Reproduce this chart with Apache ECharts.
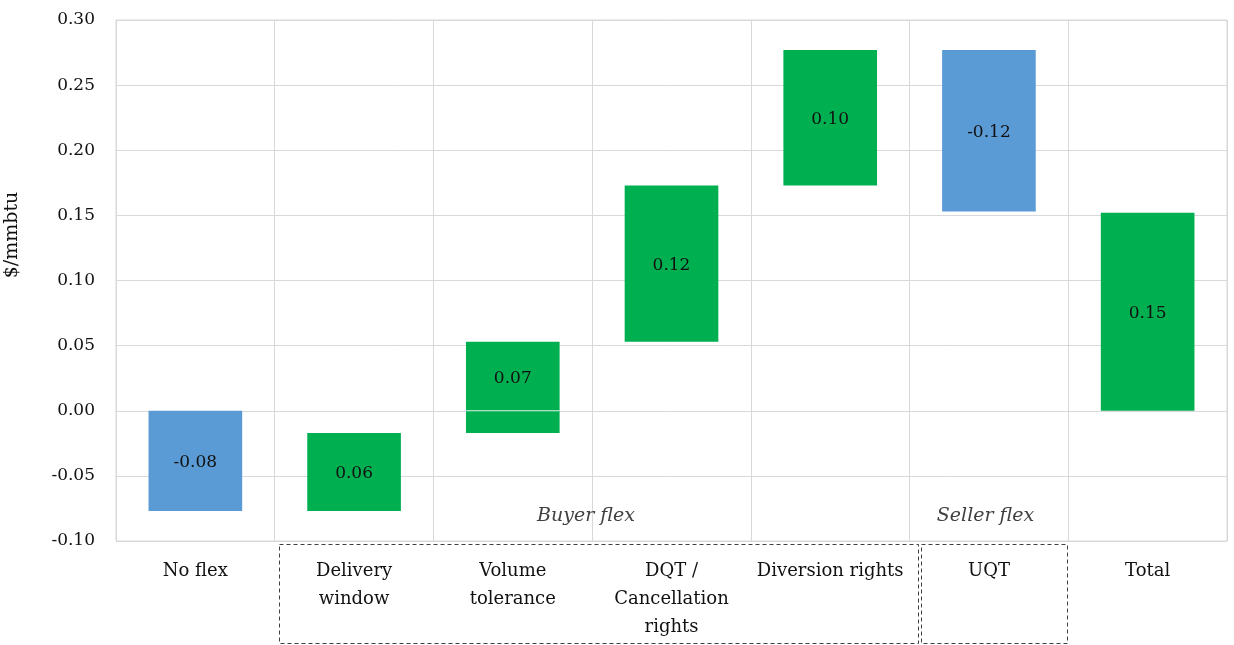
<!DOCTYPE html>
<html>
<head>
<meta charset="utf-8">
<script src="https://cdn.jsdelivr.net/npm/echarts@6/dist/echarts.min.js"></script>
<style>html,body{margin:0;padding:0;background:#fff}#c{width:1234px;height:645px}</style>
</head>
<body>
<div id="c"></div>
<script>
var categories = ['No flex', 'Delivery\nwindow', 'Volume\ntolerance', 'DQT /\nCancellation\nrights', 'Diversion rights', 'UQT', 'Total'];
var changes = [-0.077, 0.060, 0.070, 0.120, 0.104, -0.124, 0.152];
var isTotal = [false, false, false, false, false, false, true];
var yTicks = { min: -0.10, max: 0.30, interval: 0.05 };
var groups = [
  { name: 'Buyer flex', from: 1, to: 4 },
  { name: 'Seller flex', from: 5, to: 5 }
];

var FONT = 'DejaVu Serif';
var BLUE = '#5B9BD5', GREEN = '#00B050';

var rows = [];
var run = 0;
for (var i = 0; i < changes.length; i++) {
  var start, end;
  if (isTotal[i]) { start = 0; end = changes[i]; }
  else { start = run; end = run + changes[i]; run = end; }
  rows.push([i, Math.min(start, end), Math.max(start, end), changes[i]]);
}

var chart = echarts.init(document.getElementById('c'));
var option = {
  animation: false,
  grid: { left: 116, right: 7, top: 20, bottom: 104, show: true, borderColor: '#d9d9d9', borderWidth: 1 },
  xAxis: {
    type: 'category',
    data: categories,
    axisLine: { show: true, lineStyle: { color: '#d9d9d9' } },
    axisTick: { show: false },
    splitLine: { show: true, lineStyle: { color: '#d9d9d9' } },
    axisLabel: { interval: 0, color: '#111', fontFamily: FONT, fontSize: 18, lineHeight: 28, margin: 16 }
  },
  yAxis: {
    type: 'value',
    min: yTicks.min, max: yTicks.max, interval: yTicks.interval,
    axisLine: { show: false },
    axisTick: { show: false },
    splitLine: { lineStyle: { color: '#d9d9d9' } },
    axisLabel: { color: '#111', fontFamily: FONT, fontSize: 17, margin: 21,
      formatter: function (v) { return v.toFixed(2); } }
  },
  series: [{
    type: 'custom',
    data: rows,
    encode: { x: 0, y: [1, 2] },
    renderItem: function (params, api) {
      var idx = api.value(0);
      var loV = api.value(1), hiV = api.value(2);
      var lo = api.coord([idx, loV]);
      var hi = api.coord([idx, hiV]);
      var w = api.size([1, 0])[0] * 0.59;
      var val = api.value(3);
      var x = lo[0] - w / 2;
      var fill = val < 0 ? BLUE : GREEN;
      var children = [{
        type: 'rect',
        shape: { x: x, y: hi[1], width: w, height: lo[1] - hi[1] },
        style: { fill: fill }
      }];
      var labelTop = hi[1], labelBot = lo[1];
      if (loV < 0 && hiV > 0) {
        var z = api.coord([idx, 0])[1];
        children.push({
          type: 'line',
          shape: { x1: x, y1: z, x2: x + w, y2: z },
          style: { stroke: '#e6efe9', lineWidth: 1 }
        });
        labelBot = z;
      }
      children.push({
        type: 'text',
        x: lo[0], y: (labelTop + labelBot) / 2 + 2,
        style: { text: val.toFixed(2), fill: '#111', fontFamily: FONT, fontSize: 17, align: 'center', verticalAlign: 'middle' }
      });
      return { type: 'group', children: children };
    }
  }]
};
chart.setOption(option);

function boundary(i) {
  var c0 = chart.convertToPixel({ xAxisIndex: 0 }, 0);
  var c1 = chart.convertToPixel({ xAxisIndex: 0 }, 1);
  var w = c1 - c0;
  return c0 - w / 2 + i * w;
}
var gfx = [{
  type: 'text', x: 12, y: 235, rotation: Math.PI / 2,
  style: { text: '$/mmbtu', fill: '#111', fontFamily: FONT, fontSize: 19, align: 'center', verticalAlign: 'middle' }
}];
var yBot = chart.convertToPixel({ yAxisIndex: 0 }, yTicks.min);
groups.forEach(function (g, k) {
  var left = Math.round(boundary(g.from) + (k === 0 ? 4 : 11)) + 0.5;
  var right = Math.round(boundary(g.to + 1) + (k === 0 ? 8 : -1)) + 0.5;
  var top = Math.round(yBot + 3) + 0.5;
  gfx.push({
    type: 'rect', shape: { x: left, y: top, width: right - left, height: 99 },
    style: { fill: 'none', stroke: '#404040', lineWidth: 1, lineDash: [4, 3] }
  });
  gfx.push({
    type: 'text', x: (left + right) / 2 - (k === 0 ? 13 : 9), y: yBot - 25,
    style: { text: g.name, fill: '#404040', fontFamily: FONT, fontStyle: 'italic', fontSize: 19, align: 'center', verticalAlign: 'middle' }
  });
});
chart.setOption({ graphic: gfx });
</script>
</body>
</html>
